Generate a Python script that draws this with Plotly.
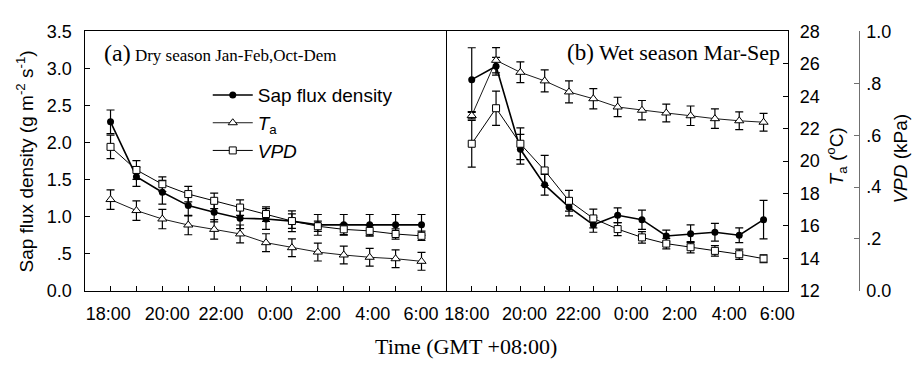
import plotly.graph_objects as go

# ---------------- data ----------------
hours = list(range(13))  # hourly steps from 18:00 to 6:00
time_labels = ["18:00", "20:00", "22:00", "0:00", "2:00", "4:00", "6:00"]
sap_ticks = ["0.0", ".5", "1.0", "1.5", "2.0", "2.5", "3.0", "3.5"]
vpd_ticks = ["0.0", ".2", ".4", ".6", ".8", "1.0"]

# (a) Dry season
dry_sap = [2.28, 1.54, 1.33, 1.15, 1.06, 0.98, 0.97, 0.94, 0.89, 0.89, 0.89, 0.89, 0.89]
dry_sap_err = [0.16, 0.13, 0.16, 0.14, 0.13, 0.14, 0.14, 0.14, 0.14, 0.14, 0.14, 0.14, 0.14]
dry_ta = [17.63, 16.95, 16.43, 16.06, 15.79, 15.51, 14.97, 14.66, 14.39, 14.21, 14.07, 13.98, 13.82]
dry_ta_err = [0.6, 0.6, 0.6, 0.6, 0.6, 0.55, 0.55, 0.55, 0.55, 0.55, 0.55, 0.55, 0.55]
dry_vpd = [0.555, 0.466, 0.411, 0.373, 0.347, 0.321, 0.296, 0.269, 0.249, 0.237, 0.231, 0.219, 0.212]
dry_vpd_err = [0.045, 0.036, 0.028, 0.03, 0.03, 0.03, 0.028, 0.028, 0.02, 0.02, 0.02, 0.02, 0.018]

# (b) Wet season
wet_sap = [2.85, 3.03, 1.91, 1.43, 1.13, 0.89, 1.02, 0.96, 0.74, 0.77, 0.79, 0.75, 0.96]
wet_sap_err = [0.43, 0.12, 0.2, 0.14, 0.12, 0.1, 0.1, 0.13, 0.08, 0.12, 0.12, 0.1, 0.26]
wet_ta = [22.81, 26.22, 25.48, 24.95, 24.27, 23.85, 23.34, 23.14, 22.97, 22.80, 22.62, 22.49, 22.40]
wet_ta_err = [0.2, 0.78, 0.64, 0.68, 0.68, 0.62, 0.6, 0.6, 0.55, 0.6, 0.6, 0.55, 0.55]
wet_vpd = [0.567, 0.704, 0.567, 0.464, 0.347, 0.279, 0.238, 0.206, 0.182, 0.168, 0.154, 0.141, 0.124]
wet_vpd_err = [0.09, 0.066, 0.061, 0.058, 0.04, 0.036, 0.025, 0.022, 0.02, 0.022, 0.02, 0.02, 0.015]

# ---------------- layout constants ----------------
W, H = 920, 367
SANS = "Liberation Sans, Arial, sans-serif"
SERIF = "Liberation Serif, Times New Roman, serif"
XL0, XL1, XR1 = 82.5 / W, 449.3 / W, 793.5 / W
YB, YT = 1 - 297 / H, 1 - 22.7 / H
VPD_POS = 865 / W
# label positions (slightly offset from tick marks as in the original)
left_label_pos = [-0.09, 2.19, 4.26, 6.36, 8.21, 10.12, 11.98]
right_label_pos = [-0.2, 2.17, 4.38, 6.56, 8.54, 10.59, 12.56]

fig = go.Figure()

def add_series(x_ax, y_sap, y_ta, y_vpd, sap, sap_e, ta, ta_e, vpd, vpd_e, legend):
    eb = dict(type="data", color="black", thickness=1.2, width=4)
    fig.add_trace(go.Scatter(
        x=hours, y=ta, xaxis=x_ax, yaxis=y_ta, mode="lines+markers",
        name="<i>T</i><sub>a</sub>", showlegend=legend, legendrank=2,
        line=dict(color="black", width=0.9),
        marker=dict(symbol="triangle-up", size=8, color="white", line=dict(color="black", width=1)),
        error_y=dict(array=ta_e, **eb)))
    fig.add_trace(go.Scatter(
        x=hours, y=vpd, xaxis=x_ax, yaxis=y_vpd, mode="lines+markers",
        name="<i>VPD</i>", showlegend=legend, legendrank=3,
        line=dict(color="black", width=1),
        marker=dict(symbol="square", size=7, color="white", line=dict(color="black", width=1)),
        error_y=dict(array=vpd_e, **eb)))
    fig.add_trace(go.Scatter(
        x=hours, y=sap, xaxis=x_ax, yaxis=y_sap, mode="lines+markers",
        name="Sap flux density", showlegend=legend, legendrank=1,
        line=dict(color="black", width=1.6),
        marker=dict(symbol="circle", size=7, color="black"),
        error_y=dict(array=sap_e, **eb)))

add_series("x", "y", "y2", "y3", dry_sap, dry_sap_err, dry_ta, dry_ta_err, dry_vpd, dry_vpd_err, True)
add_series("x2", "y4", "y5", "y6", wet_sap, wet_sap_err, wet_ta, wet_ta_err, wet_vpd, wet_vpd_err, False)

# empty traces so the label-only overlay axes are drawn
for xa, ya in (("x3", "y"), ("x4", "y4")):
    fig.add_trace(go.Scatter(x=[], y=[], xaxis=xa, yaxis=ya, showlegend=False,
                             hoverinfo="skip", mode="markers"))

LW = 1.3
tickfont = dict(family=SANS, size=18, color="black")
# axes carrying the hourly tick marks (and the frame)
xticks_common = dict(range=[-1, 13], showline=True, mirror=True, linecolor="black", linewidth=LW,
                     showgrid=False, zeroline=False, tickmode="array", tickvals=hours,
                     showticklabels=False, ticks="inside", ticklen=5, tickcolor="black",
                     tickwidth=1)
# overlay axes carrying only the time labels
xlabels_common = dict(range=[-1, 13], showline=False, showgrid=False, zeroline=False,
                      tickmode="array", ticktext=time_labels, ticks="", side="bottom",
                      tickfont=tickfont, ticklabelstandoff=10)

fig.update_layout(
    width=W, height=H, margin=dict(l=0, r=0, t=0, b=0),
    paper_bgcolor="white", plot_bgcolor="white",
    xaxis=dict(domain=[XL0, XL1], anchor="y", **xticks_common),
    xaxis2=dict(domain=[XL1, XR1], anchor="y4", **xticks_common),
    xaxis3=dict(overlaying="x", anchor="y", tickvals=left_label_pos, **xlabels_common),
    xaxis4=dict(overlaying="x2", anchor="y4", tickvals=right_label_pos, **xlabels_common),
    yaxis=dict(domain=[YB, YT], anchor="x", range=[0, 3.5], tickmode="array",
               tickvals=[i * 0.5 for i in range(8)], ticktext=sap_ticks,
               ticks="inside", ticklen=5, tickcolor="black", tickfont=tickfont,
               ticklabelstandoff=8,
               showline=True, mirror=False, linecolor="black", linewidth=LW,
               showgrid=False, zeroline=False),
    yaxis2=dict(overlaying="y", anchor="x", range=[12, 28], visible=False),
    yaxis3=dict(overlaying="y", anchor="x", range=[0, 1], visible=False),
    yaxis4=dict(domain=[YB, YT], anchor="x2", range=[0, 3.5], showticklabels=False, ticks="",
                showline=True, mirror=True, linecolor="black", linewidth=LW,
                showgrid=False, zeroline=False),
    yaxis5=dict(overlaying="y4", anchor="x2", side="right", range=[12, 28], dtick=2, tick0=12,
                ticks="inside", ticklen=5, tickcolor="black", tickfont=tickfont,
                ticklabelstandoff=7, showline=True, linecolor="black", linewidth=LW,
                showgrid=False, zeroline=False),
    yaxis6=dict(overlaying="y4", anchor="free", position=VPD_POS, side="right", range=[0, 1],
                tickmode="array", tickvals=[0, 0.2, 0.4, 0.6, 0.8, 1.0], ticktext=vpd_ticks,
                ticks="inside", ticklen=5, tickcolor="#707070", tickfont=tickfont,
                ticklabelstandoff=3, showline=True, linecolor="#707070", linewidth=1,
                showgrid=False, zeroline=False),
    legend=dict(x=207 / W, y=1 - 70 / H, xanchor="left", yanchor="top",
                bgcolor="rgba(0,0,0,0)", borderwidth=0, itemwidth=40,
                font=dict(family=SANS, size=19, color="black"), tracegroupgap=0),
    showlegend=True,
)

annos = [
    dict(x=100 / W, y=1 - 45 / H, xanchor="left", yanchor="middle",
         text='<span style="font-size:24px">(a)</span> Dry season Jan-Feb,Oct-Dem',
         font=dict(family=SERIF, size=17, color="black")),
    dict(x=788 / W, y=1 - 45 / H, xanchor="right", yanchor="middle",
         text='<span style="font-size:23px">(b)</span> Wet season Mar-Sep',
         font=dict(family=SERIF, size=22, color="black")),
    dict(x=468 / W, y=1 - 356 / H, xanchor="center", yanchor="middle",
         text="Time (GMT +08:00)", font=dict(family=SERIF, size=22, color="black")),
    dict(x=22.5 / W, y=1 - 160 / H, xanchor="center", yanchor="middle", textangle=-90,
         text="Sap flux density (g m<sup>-2</sup> s<sup>-1</sup>)",
         font=dict(family=SANS, size=19, color="black")),
    dict(x=843 / W, y=1 - 155 / H, xanchor="center", yanchor="middle", textangle=-90,
         text="<i>T</i><sub>a</sub> (<sup>o</sup>C)",
         font=dict(family=SANS, size=19, color="black")),
    dict(x=907 / W, y=1 - 157 / H, xanchor="center", yanchor="middle", textangle=-90,
         text="<i>VPD</i> (kPa)", font=dict(family=SANS, size=19, color="black")),
]
for a in annos:
    a.update(xref="paper", yref="paper", showarrow=False)
fig.update_layout(annotations=annos)

fig.write_html("out.html")
